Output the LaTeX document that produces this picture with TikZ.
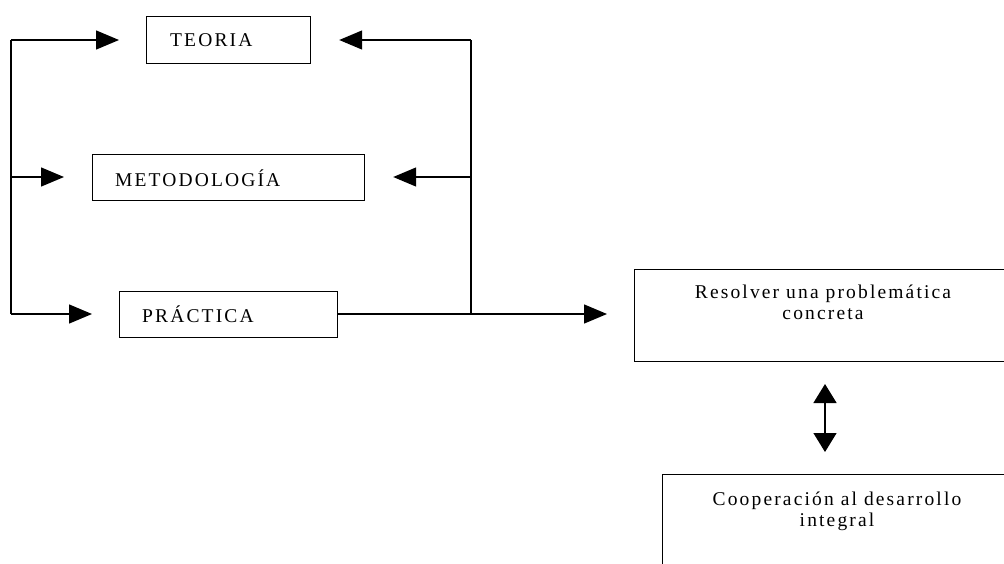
\documentclass[tikz,border=0pt]{standalone}
\usepackage{fontspec}
\setmainfont{Liberation Serif}[LetterSpace=11]
\usetikzlibrary{arrows.meta}
\begin{document}
\begin{tikzpicture}[x=1pt,y=-1pt,
  box/.style={draw, line width=1.2pt, rectangle, inner sep=0pt, anchor=north west},
  lbl/.style={font=\fontsize{19.5}{21}\selectfont, inner sep=0pt},
  ln/.style={line width=1.4pt},
  arr/.style={line width=1.4pt, -{Triangle[length=23pt,width=19pt]}},
  darr/.style={line width=1.4pt, {Triangle[length=19pt,width=23pt]}-{Triangle[length=19pt,width=23pt]}}]
\useasboundingbox (0,0) rectangle (1004,563);
\clip (0,0) rectangle (1004,563);
% boxes
\node[box, minimum width=164pt, minimum height=47pt] (teoria) at (146,16) {};
\node[box, minimum width=272pt, minimum height=46pt] (metodo) at (92,154) {};
\node[box, minimum width=218pt, minimum height=46pt] (practica) at (119,291) {};
\node[box, minimum width=380pt, minimum height=92pt] (resolver) at (634,269) {};
\node[box, minimum width=360pt, minimum height=110pt] (coop) at (662,474) {};
% texts
\node[lbl, anchor=west] (tteoria) at (170,40) {TEORIA};
\node[lbl, anchor=west] (tmetodo) at (115,178) {METODOLOGÍA};
\node[lbl, anchor=west] (tpractica) at (142,314) {PRÁCTICA};
\node[lbl, align=center, anchor=north] (tresolver) at (823,285) {Resolver una problemática\\concreta};
\node[lbl, align=center, anchor=north] (tcoop) at (837,492) {Cooperación al desarrollo\\integral};
% coordinates
\coordinate (l1) at (11,40);
\coordinate (l2) at (11,177);
\coordinate (l3) at (11,314);
\coordinate (r1) at (471,40);
\coordinate (r2) at (471,177);
\coordinate (r3) at (471,314);
\coordinate (dtop) at (825,384);
\coordinate (dbot) at (825,452);
% left loop
\draw[ln] (l1) -- (l3);
\draw[arr] (l1) -- ([xshift=-27pt]teoria.west |- l1);
\draw[arr] (l2) -- ([xshift=-28pt]metodo.west |- l2);
\draw[arr] (l3) -- ([xshift=-27pt]practica.west |- l3);
% right loop
\draw[ln] (practica.east |- r3) -- (r3);
\draw[ln] (r3) -- (r1);
\draw[arr] (r1) -- ([xshift=28pt]teoria.east |- r1);
\draw[arr] (r2) -- ([xshift=28pt]metodo.east |- r2);
\draw[arr] (r3) -- ([xshift=-27pt]resolver.west |- r3);
% double arrow
\draw[darr] (dtop) -- (dbot);
\end{tikzpicture}
\end{document}
